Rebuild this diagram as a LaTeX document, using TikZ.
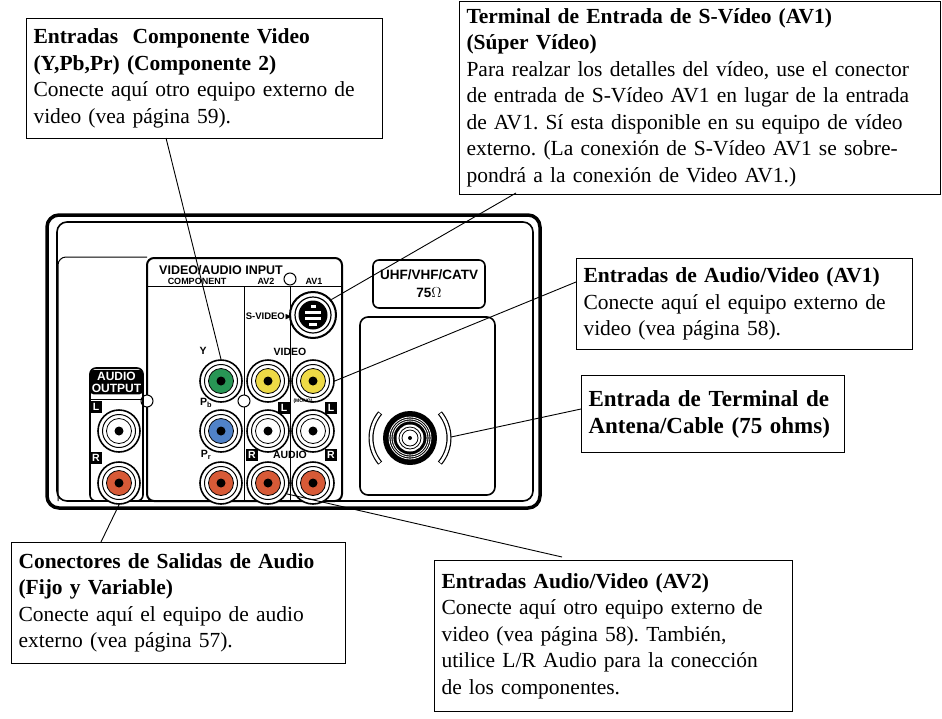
\documentclass[tikz,border=0pt]{standalone}
\usepackage{amssymb}
\usepackage{fontspec}
\setmainfont{Liberation Serif}
\setsansfont{Liberation Sans}
\begin{document}
\frenchspacing
\definecolor{jgreen}{RGB}{40,150,85}
\definecolor{jyellow}{RGB}{238,218,70}
\definecolor{jblue}{RGB}{80,130,200}
\definecolor{jred}{RGB}{215,90,55}
\newcommand\rcajack[4]{%
  \node[circle,draw,line width=1.6pt,fill=white,minimum size=42pt,inner sep=0] (#4) at (#1,#2) {};
  \draw[line width=1pt] (#1,#2) circle (16.5);
  \fill[#3,draw=black,line width=0.8pt] (#1,#2) circle (12.5);
  \fill (#1,#2) circle (4.5);}
\begin{tikzpicture}[x=1pt,y=-1pt,
  box/.style={draw,line width=1pt,fill=white,anchor=north west,align=left,inner sep=7pt,font=\fontsize{21.5}{26.5}\selectfont},
  lead/.style={line width=0.9pt},
  lab/.style={font=\sffamily\bfseries\fontsize{10.5}{11}\selectfont,inner sep=0},
  blk/.style={fill=black,text=white,font=\sffamily\bfseries\fontsize{10.5}{10}\selectfont,inner sep=1.2pt,minimum width=12pt,minimum height=12pt},
  mk/.style={circle,draw,fill=white,line width=1pt,minimum size=12pt,inner sep=0}]
\useasboundingbox (0,0) rectangle (942,718);
% panel
\draw[line width=3.5pt,rounded corners=12] (47,215) rectangle (540,508);
\draw[line width=1.6pt,rounded corners=10] (57,222) rectangle (533,501);
\draw[line width=1pt,rounded corners=8] (58,501) -- (58,257) -- (147,257);
\draw[line width=2pt,rounded corners=7] (147,258) rectangle (342,501);
\draw[line width=1pt] (147,286) -- (342,286);
\draw[line width=1pt] (244,286) -- (244,501);
\draw[line width=1pt] (290,286) -- (290,501);
\node[lab,font=\sffamily\bfseries\fontsize{12.5}{12}\selectfont] (hdr) at (221,270) {VIDEO/AUDIO INPUT};
\node[lab,font=\sffamily\bfseries\fontsize{9}{8}\selectfont] (hcomp) at (197,281) {COMPONENT};
\node[lab,font=\sffamily\bfseries\fontsize{9}{8}\selectfont] (hav2) at (266,281) {AV2};
\node[lab,font=\sffamily\bfseries\fontsize{9}{8}\selectfont] (hav1) at (314,281) {AV1};
\node[mk] (m1) at (290,279) {};
\node[mk] (m2) at (244,401) {};
\node[mk] (m3) at (147,401) {};
% audio output
\draw[line width=1.6pt,rounded corners=6] (90,368) rectangle (143,501);
\node[fill=black,text=white,rounded corners=4,font=\sffamily\bfseries\fontsize{12}{12}\selectfont,align=center,inner sep=2pt,minimum width=54pt] (aout) at (116.5,382) {AUDIO\\OUTPUT};
\draw[line width=1pt] (90,399) -- (143,399);
\node[blk] (aL) at (96,407) {L};
\node[blk] (aR) at (96,458) {R};
\rcajack{119}{431}{white}{jaL}
\rcajack{119}{483}{jred}{jaR}
% component / av jacks
\rcajack{221}{381}{jgreen}{jY}
\rcajack{221}{431}{jblue}{jPb}
\rcajack{221}{483}{jred}{jPr}
\rcajack{268}{381}{jyellow}{jv2}
\rcajack{268}{431}{white}{jl2}
\rcajack{268}{483}{jred}{jr2}
\rcajack{313}{381}{jyellow}{jv1}
\rcajack{313}{431}{white}{jl1}
\rcajack{313}{483}{jred}{jr1}
\node[lab] (tY) at (203,351) {Y};
\node[lab] (tPb) at (206,403) {P\textsubscript{b}};
\node[lab] (tPr) at (206,455) {P\textsubscript{r}};
\node[lab] (tvid) at (290,352) {VIDEO};
\node[lab] (taud) at (290,455) {AUDIO};
\node[lab,font=\sffamily\bfseries\fontsize{5}{5}\selectfont] (tmono) at (303,401) {(MONO)};
\node[blk] (l2) at (284,408) {L};
\node[blk] (l1) at (331,408) {L};
\node[blk] (r2) at (252,455) {R};
\node[blk] (r1) at (331,455) {R};
\node[lab,font=\sffamily\bfseries\fontsize{9.5}{10}\selectfont] (tsv) at (269,316) {S-VIDEO$\blacktriangleright$};
% s-video
\node[circle,draw,line width=2pt,minimum size=46pt,inner sep=0] (sv) at (313,315) {};
\draw[line width=1.2pt] (313,315) circle (18);
\fill (313,315) circle (14.5);
\fill[white] (305,311) rectangle (321,313.5);
\fill[white] (305,317) rectangle (321,319.5);
\fill[white] (309,323) rectangle (317,326);
\fill[white] (310.5,305) rectangle (315.5,308);
% UHF
\draw[line width=1.6pt,rounded corners=6] (373,260) rectangle (485,308);
\node[font=\sffamily\bfseries\fontsize{13.5}{18}\selectfont,align=center,inner sep=0] (uhf) at (429,284) {UHF/VHF/CATV\\75$\Omega$};
\draw[line width=1.6pt,rounded corners=8] (360,317) rectangle (495,495);
% antenna
\node[circle,fill=black,minimum size=54pt,inner sep=0] (ant) at (410,438) {};
\draw[white,line width=0.8pt] (410,438) circle (21);
\draw[white,line width=0.8pt] (410,438) circle (19);
\draw[white,line width=0.8pt] (410,438) circle (17);
\fill[white] (410,438) circle (13.5);
\draw[line width=0.8pt] (410,438) circle (11);
\draw[line width=0.8pt] (410,438) circle (8);
\fill (410,438) circle (2);
\draw[line width=5pt] (410,438) ++(140:39) arc[start angle=140,end angle=220,radius=39];
\draw[white,line width=2.6pt] (410,438) ++(141:39) arc[start angle=141,end angle=219,radius=39];
\draw[line width=5pt] (410,438) ++(-40:39) arc[start angle=-40,end angle=40,radius=39];
\draw[white,line width=2.6pt] (410,438) ++(-39:39) arc[start angle=-39,end angle=39,radius=39];
\coordinate (antr) at (451,437);
% text boxes
\node[box,text width=342pt,minimum height=120pt] (b1) at (26,18) {\textbf{Entradas\ \ Componente Video}\\\textbf{(Y,Pb,Pr) (Componente 2)}\\Conecte aquí otro equipo externo de\\video (vea página 59).};
\node[box,text width=467pt,minimum height=192pt] (b2) at (459,1) {\textbf{Terminal de Entrada de S-Vídeo (AV1)}\\\textbf{(Súper Vídeo)}\\Para realzar los detalles del vídeo, use el conector\\de entrada de S-Vídeo AV1 en lugar de la entrada\\de AV1. Sí esta disponible en su equipo de vídeo\\externo. (La conexión de S-Vídeo AV1 se sobre-\\pondrá a la conexión de Video AV1.)};
\node[box,text width=322pt,minimum height=91pt] (b3) at (576,258) {\textbf{Entradas de Audio/Video (AV1)}\\Conecte aquí el equipo externo de\\video (vea página 58).};
\node[box,text width=249pt,minimum height=77pt,font=\bfseries\fontsize{23}{27}\selectfont] (b4) at (581,375) {Entrada de Terminal de\\Antena/Cable (75 ohms)\\[-4pt]};
\node[box,text width=320pt,minimum height=121pt] (b5) at (11,542) {\textbf{Conectores de Salidas de Audio}\\\textbf{(Fijo y Variable)}\\Conecte aquí el equipo de audio\\externo (vea página 57).};
\node[box,text width=344pt,minimum height=151pt] (b6) at (434,560) {\textbf{Entradas Audio/Video (AV2)}\\Conecte aquí otro equipo externo de\\video (vea página 58). También,\\utilice L/R Audio para la conección\\de los componentes.};
% leaders
\coordinate (c1) at (166,138);
\coordinate (c2) at (516,193);
\coordinate (c3) at (576,282);
\coordinate (c4) at (581,409);
\coordinate (c5) at (101,542);
\coordinate (c6) at (562,557);
\draw[lead] (c1) -- (jY.north);
\draw[lead] (c2) -- (sv.40);
\draw[lead] (c3) -- (jv1.east);
\draw[lead] (c4) -- (antr);
\draw[lead] (c5) -- (jaR.south);
\draw[lead] (c6) -- (jr2.-30);
\end{tikzpicture}
\end{document}
